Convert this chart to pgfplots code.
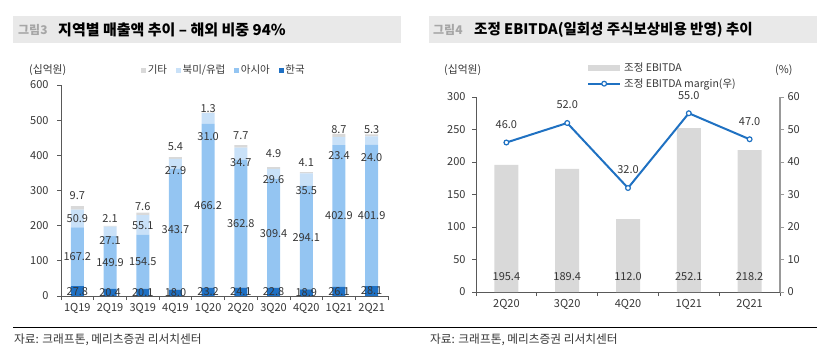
\documentclass[border=0pt]{standalone}
\usepackage{fontspec}
\setmainfont{Noto Sans CJK KR}
\usepackage{pgfplots}
\usepackage{pgfplotstable}
\pgfplotsset{compat=1.18}
\definecolor{cKr}{HTML}{1E70C4}
\definecolor{cAs}{HTML}{94C5F2}
\definecolor{cNa}{HTML}{C9E1F8}
\definecolor{cEt}{HTML}{D9D9D9}
\definecolor{cBar}{HTML}{D9D9D9}
\definecolor{cLine}{HTML}{1F71C2}
\definecolor{titlebg}{HTML}{E9E9E9}
\definecolor{labc}{HTML}{363636}
\definecolor{axisc}{HTML}{595959}
\definecolor{titlegray}{HTML}{A6A6A6}

\pgfplotstableread{
x kr asia na etc naY etY
0 27.8 167.2 50.9 9.7 221 287
1 20.4 149.9 27.1 2.1 159 221
2 20.1 154.5 55.1 7.6 200 254
3 18.0 343.7 27.9 5.4 358 424.5
4 23.2 466.2 31.0 1.3 453 531.7
5 24.1 362.8 34.7 7.7 380 456
6 22.8 309.4 29.6 4.9 330 404
7 18.9 294.1 35.5 4.1 301 380
8 26.1 402.9 23.4 8.7 398 474
9 28.1 401.9 24.0 5.3 394 472
}\dataL

\pgfplotstableread{
x v m lab
0 195.4 46.0 23
1 189.4 52.0 23
2 112.0 32.0 23
3 252.1 55.0 23
4 218.2 47.0 23
}\dataR

\pgfplotsset{
  /pgf/number format/assume math mode=true,
  every axis/.append style={
    tick label style={font=\fontsize{11}{13}\selectfont, text=labc},
  },
  lbl/.style={draw=none, mark=none, point meta=explicit, nodes near coords={\pgfmathprintnumber[fixed,fixed zerofill,precision=1]{\pgfplotspointmeta}},
    every node near coord/.append style={anchor=center, font=\fontsize{11}{13}\selectfont, text=labc, inner sep=1pt}},
}

\begin{document}
\begin{tikzpicture}
\useasboundingbox (0,0) rectangle (826pt,360pt);
% ---------- titles ----------
\fill[titlebg] (13pt,317pt) rectangle (401pt,344pt);
\fill[titlebg] (429pt,317pt) rectangle (817pt,344pt);
\node[anchor=west, inner sep=0pt, text=titlegray, font=\fontsize{12}{14}\selectfont\bfseries] at (18pt,330.5pt) {그림3};
\node[anchor=west, inner sep=0pt, font=\fontsize{15}{17}\selectfont\bfseries] at (58pt,330.5pt) {지역별 매출액 추이 – 해외 비중 94\%};
\node[anchor=west, inner sep=0pt, text=titlegray, font=\fontsize{12}{14}\selectfont\bfseries] at (433pt,330.5pt) {그림4};
\node[anchor=west, inner sep=0pt, font=\fontsize{14.5}{17}\selectfont\bfseries] at (474pt,330.5pt) {조정 EBITDA(일회성 주식보상비용 반영) 추이};
% ---------- footers ----------
\draw[black, line width=1pt] (13pt,33pt) -- (817pt,33pt);
\node[anchor=west, inner sep=0pt, text=labc, font=\fontsize{11.7}{13}\selectfont] at (14pt,20pt) {자료: 크래프톤, 메리츠증권 리서치센터};
\node[anchor=west, inner sep=0pt, text=labc, font=\fontsize{11.7}{13}\selectfont] at (430pt,20pt) {자료: 크래프톤, 메리츠증권 리서치센터};
% unit labels
\node[anchor=west, inner sep=0pt, text=labc, font=\fontsize{10.8}{12}\selectfont] at (29pt,290pt) {(십억원)};
\node[anchor=west, inner sep=0pt, text=labc, font=\fontsize{10.8}{12}\selectfont] at (444pt,290pt) {(십억원)};
\node[anchor=west, inner sep=0pt, text=labc, font=\fontsize{10.8}{12}\selectfont] at (775pt,290pt) {(\%)};

% ---------- left chart: bars ----------
\begin{axis}[at={(61pt,64pt)}, anchor=south west, scale only axis,
  width=327pt, height=211pt,
  ybar stacked, bar width=13pt,
  xmin=-0.5, xmax=9.5, ymin=0, ymax=600,
  axis lines=left, axis line style={-, axisc, line width=0.8pt},
  xtick={0,...,9},
  xticklabels={1Q19,2Q19,3Q19,4Q19,1Q20,2Q20,3Q20,4Q20,1Q21,2Q21},
  minor xtick={-0.5,0.5,...,9.5},
  major x tick style={draw=none},
  minor tick length=4pt, major tick length=4pt,
  tick align=outside, tick style={axisc, line width=0.8pt},
  ytick={0,100,...,600},
  yticklabel style={xshift=-5pt},
  clip=false,
]
\addplot[fill=cKr, draw=none] table[x=x, y=kr] {\dataL};
\addplot[fill=cAs, draw=none] table[x=x, y=asia] {\dataL};
\addplot[fill=cNa, draw=none] table[x=x, y=na] {\dataL};
\addplot[fill=cEt, draw=none] table[x=x, y=etc] {\dataL};
\end{axis}
% ---------- left chart: labels + legend ----------
\begin{axis}[at={(61pt,64pt)}, anchor=south west, scale only axis,
  width=327pt, height=211pt, hide axis,
  xmin=-0.5, xmax=9.5, ymin=0, ymax=600, clip=false,
  legend columns=-1,
  legend style={draw=none, fill=none, inner sep=0pt, at={(0.245,1.071)}, anchor=west,
    font=\fontsize{10.5}{12}\selectfont, text=labc, nodes={inner sep=1pt},
    /tikz/every odd column/.append style={column sep=0.5pt},
    /tikz/every even column/.append style={column sep=8pt}},
  legend image code/.code={\fill (0pt,-2.5pt) rectangle (5pt,2.5pt);},
]
\addlegendimage{fill=cEt, draw=none}\addlegendentry{기타}
\addlegendimage{fill=cNa, draw=none}\addlegendentry{북미/유럽}
\addlegendimage{fill=cAs, draw=none}\addlegendentry{아시아}
\addlegendimage{fill=cKr, draw=none}\addlegendentry{한국}
\addplot[lbl] table[x=x, y expr=0.5*\thisrow{kr}, meta=kr] {\dataL};
\addplot[lbl] table[x=x, y expr=\thisrow{kr}+0.5*\thisrow{asia}, meta=asia] {\dataL};
\addplot[lbl] table[x=x, y=naY, meta=na] {\dataL};
\addplot[lbl] table[x=x, y=etY, meta=etc] {\dataL};
\end{axis}

% ---------- right chart: bars ----------
\begin{axis}[at={(476pt,68pt)}, anchor=south west, scale only axis,
  width=304pt, height=195pt,
  ybar, bar width=24pt,
  xmin=-0.5, xmax=4.5, ymin=0, ymax=300,
  axis lines=left, axis line style={-, axisc, line width=0.8pt},
  xtick={0,...,4},
  xticklabels={2Q20,3Q20,4Q20,1Q21,2Q21},
  minor xtick={-0.5,0.5,...,4.5},
  major x tick style={draw=none},
  minor tick length=4pt, major tick length=4pt,
  tick align=outside, tick style={axisc, line width=0.8pt},
  ytick={0,50,...,300},
  yticklabel style={xshift=-3pt},
  clip=false,
]
\addplot[fill=cBar, draw=none] table[x=x, y=v] {\dataR};
\end{axis}
% ---------- right chart: line, right axis, labels, legend ----------
\begin{axis}[at={(476pt,68pt)}, anchor=south west, scale only axis,
  width=304pt, height=195pt,
  xmin=-0.5, xmax=4.5, ymin=0, ymax=60,
  axis x line=none, axis y line*=right,
  axis line style={-, gray!80, line width=1.5pt},
  ytick={0,10,...,60},
  major tick length=4pt, tick align=outside, tick style={gray!80, line width=1pt},
  clip=false,
  legend style={draw=none, fill=none, inner sep=0pt, at={(0.365,1.181)}, anchor=north west,
    font=\fontsize{10.5}{12}\selectfont, text=labc, nodes={inner sep=1pt}, row sep=3.5pt,
    /tikz/every odd column/.append style={column sep=2pt}},
  legend cell align=left,
]
\addlegendimage{legend image code/.code={\fill[cBar] (0pt,-2.5pt) rectangle (31pt,2.5pt);}}
\addlegendentry{조정 EBITDA}
\addplot[cLine, line width=2pt, mark=*, mark size=2.4pt,
  mark options={fill=white, draw=cLine, line width=1.2pt},
  legend image code/.code={\draw[mark repeat=2,mark phase=2] plot coordinates {(0pt,0pt) (16pt,0pt) (32pt,0pt)};}]
  table[x=x, y=m] {\dataR};
\addlegendentry{조정 EBITDA margin(우)}
\addplot[lbl, every node near coord/.append style={yshift=18pt}] table[x=x, y=m, meta=m] {\dataR};
\end{axis}
% bar value labels (left scale)
\begin{axis}[at={(476pt,68pt)}, anchor=south west, scale only axis,
  width=304pt, height=195pt, hide axis,
  xmin=-0.5, xmax=4.5, ymin=0, ymax=300, clip=false]
\addplot[lbl] table[x=x, y=lab, meta=v] {\dataR};
\end{axis}
\end{tikzpicture}
\end{document}
